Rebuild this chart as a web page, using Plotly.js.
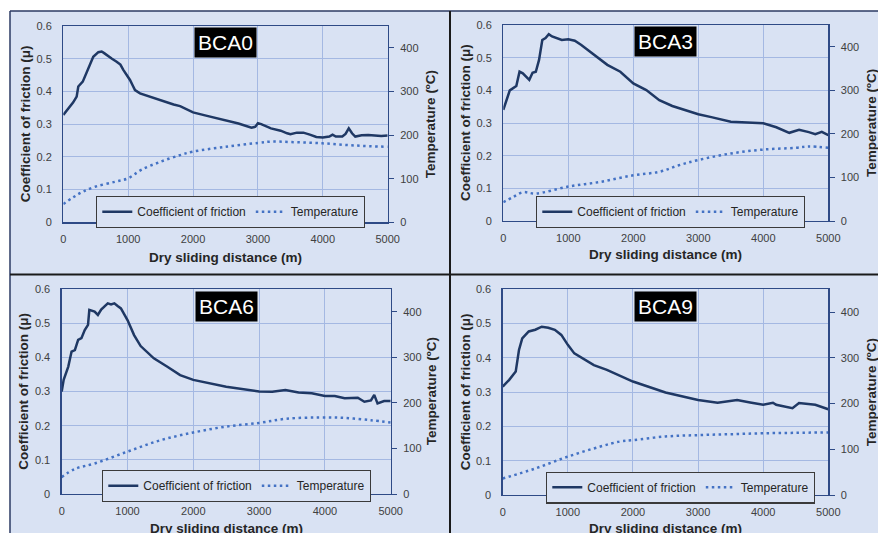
<!DOCTYPE html>
<html>
<head>
<meta charset="utf-8">
<script src="https://cdn.plot.ly/plotly-3.0.1.min.js"></script>
<style>html,body{margin:0;padding:0;background:#fff;}#chart{width:878px;height:533px;}</style>
</head>
<body>
<div id="chart"></div>
<script>
// ---------------- DATA ----------------
const panelNames = ["BCA0", "BCA3", "BCA6", "BCA9"];
const seriesNames = ["Coefficient of friction", "Temperature"];
const xTitle = "Dry sliding distance (m)";
const yTitleLeft = "Coefficient of friction (μ)";
const yTitleRight = "Temperature (ºC)";

// BCA0
const bca0_cofX = [0,50,100,150,206,231,300,360,420,462,540,591,630,668,750,822,880,925,980,1028,1070,1105,1182,1300,1500,1700,1800,2000,2200,2500,2700,2900,2960,3000,3050,3200,3350,3450,3500,3600,3700,3800,3900,4000,4100,4150,4200,4300,4350,4400,4450,4500,4600,4700,4800,4900,5000];
const bca0_cofY = [0.328,0.340,0.352,0.366,0.384,0.415,0.430,0.460,0.490,0.506,0.520,0.522,0.517,0.511,0.500,0.491,0.482,0.466,0.450,0.435,0.418,0.404,0.394,0.386,0.374,0.360,0.355,0.336,0.326,0.313,0.302,0.289,0.292,0.303,0.300,0.287,0.280,0.272,0.269,0.274,0.274,0.268,0.261,0.259,0.262,0.268,0.262,0.262,0.270,0.287,0.272,0.262,0.266,0.267,0.265,0.264,0.265];
const bca0_tX = [0,150,300,500,800,1000,1200,1500,1800,2000,2500,3000,3200,3500,4000,4500,5000];
const bca0_tY = [42,57,70,82,93,101,120,139,154,162,173,182,185,184,181,176,173];

// BCA3
const bca3_cofX = [0,50,100,200,250,300,400,450,500,550,600,650,700,750,800,900,1000,1100,1200,1400,1600,1800,2000,2200,2400,2600,2800,3000,3200,3500,4000,4200,4400,4550,4700,4800,4900,5000];
const bca3_cofY = [0.340,0.370,0.400,0.413,0.457,0.452,0.432,0.454,0.457,0.493,0.554,0.560,0.572,0.565,0.562,0.554,0.556,0.552,0.539,0.508,0.478,0.457,0.421,0.401,0.370,0.352,0.340,0.327,0.318,0.304,0.299,0.287,0.270,0.279,0.272,0.266,0.273,0.263];
const bca3_tX = [0,150,300,500,1000,1500,2000,2400,2700,3000,3500,4000,4500,4700,5000];
const bca3_tY = [43,55,66,63,79,90,105,113,128,140,155,164,168,171,168];

// BCA6
const bca6_cofX = [0,30,100,150,200,250,300,350,400,420,500,550,600,700,750,800,850,900,1000,1100,1200,1400,1600,1800,2000,2500,3000,3200,3400,3600,3800,4000,4150,4300,4500,4600,4700,4750,4800,4900,5000];
const bca6_cofY = [0.300,0.334,0.373,0.417,0.421,0.451,0.456,0.480,0.495,0.539,0.534,0.524,0.540,0.558,0.555,0.558,0.550,0.543,0.509,0.465,0.433,0.397,0.373,0.348,0.334,0.314,0.300,0.299,0.304,0.297,0.295,0.287,0.287,0.280,0.282,0.270,0.274,0.290,0.265,0.272,0.272];
const bca6_tX = [0,200,500,1000,1500,2000,2500,3000,3400,3900,4300,4700,5000];
const bca6_tY = [37,55,67,93,118,135,148,156,165,168,167,162,157];

// BCA9
const bca9_cofX = [0,100,200,250,300,400,500,600,700,800,900,1000,1100,1200,1400,1600,1800,2000,2500,3000,3300,3600,3800,4000,4150,4200,4450,4550,4800,5000];
const bca9_cofY = [0.316,0.336,0.360,0.423,0.457,0.477,0.482,0.491,0.488,0.482,0.467,0.438,0.413,0.402,0.379,0.365,0.347,0.331,0.299,0.277,0.269,0.277,0.270,0.263,0.269,0.263,0.253,0.268,0.263,0.250];
const bca9_tX = [0,500,1000,1500,1800,2000,2500,3000,3500,4000,4500,5000];
const bca9_tY = [36,58,84,106,117,120,128,131,133,135,136,137];

const yLeftTicks = [0,0.1,0.2,0.3,0.4,0.5,0.6];
const yRightTicks = [0,100,200,300,400];
const xTicks = [0,1000,2000,3000,4000,5000];

// ---------------- STYLE ----------------
const W = 878, H = 533;
const BG = "#d9e2f3";
const GRID = "#a4b8e2";
const FRAME = "#2e4a86";
const TXT = "#404040";
const FONT = "Liberation Sans, Arial, sans-serif";
const cofColor = "#1f3864";
const tColor = "#4472c4";

const px = v => v / W;
const py = v => 1 - v / H;

// plot area rectangles in pixels [left, right, top, bottom]
const boxes = [
  [63.3, 387.7, 26, 222.3],
  [503.3, 828.3, 25, 221],
  [61.7, 390.7, 289, 494],
  [502.7, 828.3, 289.3, 495]
];
const legendBoxes = [
  [96, 196], [536, 196], [102, 470], [546, 471.5]
];
const xTitleY = [257, 255, 528, 528];
const leftTitleX = [25, 465, 23.3, 465];
const rightTitleX = [430, 871, 431.7, 871];

const cofX = [bca0_cofX, bca3_cofX, bca6_cofX, bca9_cofX];
const cofY = [bca0_cofY, bca3_cofY, bca6_cofY, bca9_cofY];
const tX = [bca0_tX, bca3_tX, bca6_tX, bca9_tX];
const tY = [bca0_tY, bca3_tY, bca6_tY, bca9_tY];

const data = [];
const layout = {
  width: W, height: H,
  margin: {l: 0, r: 0, t: 0, b: 0, pad: 0, autoexpand: false},
  paper_bgcolor: "#ffffff",
  plot_bgcolor: "rgba(0,0,0,0)",
  font: {family: FONT, size: 11, color: TXT},
  showlegend: true,
  shapes: [
    {type: "rect", xref: "paper", yref: "paper", x0: px(10), x1: 1, y0: 0, y1: py(11), fillcolor: BG, line: {width: 0}, layer: "below"},
    {type: "line", xref: "paper", yref: "paper", x0: px(10), x1: 1, y0: py(11), y1: py(11), line: {color: "#2b3a63", width: 1.5}},
    {type: "line", xref: "paper", yref: "paper", x0: px(10), x1: px(10), y0: 0, y1: py(11), line: {color: "#2b3a63", width: 1.5}},
    {type: "line", xref: "paper", yref: "paper", x0: px(450), x1: px(450), y0: 0, y1: py(11), line: {color: "#1a1a1a", width: 2}},
    {type: "line", xref: "paper", yref: "paper", x0: px(10), x1: 1, y0: py(274.5), y1: py(274.5), line: {color: "#1a1a1a", width: 2}}
  ],
  annotations: []
};

for (let i = 0; i < 4; i++) {
  const b = boxes[i];
  const xa = i === 0 ? "x" : "x" + (i + 1);
  const yl = "y" + (2 * i + 1 === 1 ? "" : 2 * i + 1);
  const yr = "y" + (2 * i + 2);
  const lg = i === 0 ? "legend" : "legend" + (i + 1);
  const xKey = i === 0 ? "xaxis" : "xaxis" + (i + 1);
  const ylKey = "yaxis" + (2 * i + 1 === 1 ? "" : 2 * i + 1);
  const yrKey = "yaxis" + (2 * i + 2);

  layout[xKey] = {
    domain: [px(b[0]), px(b[1])], anchor: yl, range: [0, 5000],
    tickvals: xTicks, ticks: "", showgrid: true, gridcolor: GRID, gridwidth: 1,
    showline: true, linecolor: FRAME, linewidth: 1.3, mirror: true, zeroline: false,
    ticklabelstandoff: 6, tickfont: {size: 11, color: TXT, family: FONT}, automargin: false
  };
  layout[ylKey] = {
    domain: [py(b[3]), py(b[2])], anchor: xa, range: [0, 0.6],
    tickvals: yLeftTicks, ticks: "", showgrid: true, gridcolor: GRID, gridwidth: 1,
    showline: true, linecolor: FRAME, linewidth: 1.3, mirror: true, zeroline: false,
    ticklabelstandoff: 8, tickfont: {size: 11, color: TXT, family: FONT}, automargin: false
  };
  layout[yrKey] = {
    overlaying: yl, side: "right", anchor: xa, range: [0, 450],
    tickvals: yRightTicks, ticks: "outside", ticklen: 5, tickcolor: FRAME,
    showgrid: false, showline: true, linecolor: FRAME, linewidth: 1.3, zeroline: false,
    ticklabelstandoff: 4, tickfont: {size: 11, color: TXT, family: FONT}, automargin: false
  };
  layout[lg] = {
    orientation: "h", x: px(legendBoxes[i][0]), y: py(legendBoxes[i][1]),
    xanchor: "left", yanchor: "top", xref: "paper", yref: "paper",
    bgcolor: BG, bordercolor: "#3a3a3a", borderwidth: 1.3,
    font: {size: 12, color: "#262626", family: FONT},
    itemwidth: 30, tracegroupgap: 0
  };

  data.push({
    x: cofX[i], y: cofY[i], xaxis: xa, yaxis: yl, type: "scatter", mode: "lines",
    name: seriesNames[0], legend: lg,
    line: {color: cofColor, width: 2.5}
  });
  data.push({
    x: tX[i], y: tY[i], xaxis: xa, yaxis: yr, type: "scatter", mode: "lines",
    name: seriesNames[1], legend: lg,
    line: {color: tColor, width: 2.5, dash: "2.5px,3.5px", shape: "spline"}
  });

  // panel label
  layout.annotations.push({
    xref: xa, yref: yl, x: 2500, y: 0.55, text: panelNames[i], showarrow: false,
    font: {size: 21, color: "#ffffff", family: FONT}, bgcolor: "#000000", borderpad: 3
  });
  // x title
  layout.annotations.push({
    xref: "paper", yref: "paper", x: px((b[0] + b[1]) / 2), y: py(xTitleY[i]),
    text: "<b>" + xTitle + "</b>", showarrow: false, xanchor: "center", yanchor: "middle",
    font: {size: 13.5, color: "#262626", family: FONT}
  });
  // left y title
  layout.annotations.push({
    xref: "paper", yref: "paper", x: px(leftTitleX[i]), y: py((b[2] + b[3]) / 2),
    text: "<b>" + yTitleLeft + "</b>", showarrow: false, textangle: -90,
    xanchor: "center", yanchor: "middle",
    font: {size: 13.5, color: "#262626", family: FONT}
  });
  // right y title
  layout.annotations.push({
    xref: "paper", yref: "paper", x: px(rightTitleX[i]), y: py((b[2] + b[3]) / 2),
    text: "<b>" + yTitleRight + "</b>", showarrow: false, textangle: -90,
    xanchor: "center", yanchor: "middle",
    font: {size: 13.5, color: "#262626", family: FONT}
  });
}

Plotly.newPlot("chart", data, layout, {displayModeBar: false, staticPlot: true});
</script>
</body>
</html>
